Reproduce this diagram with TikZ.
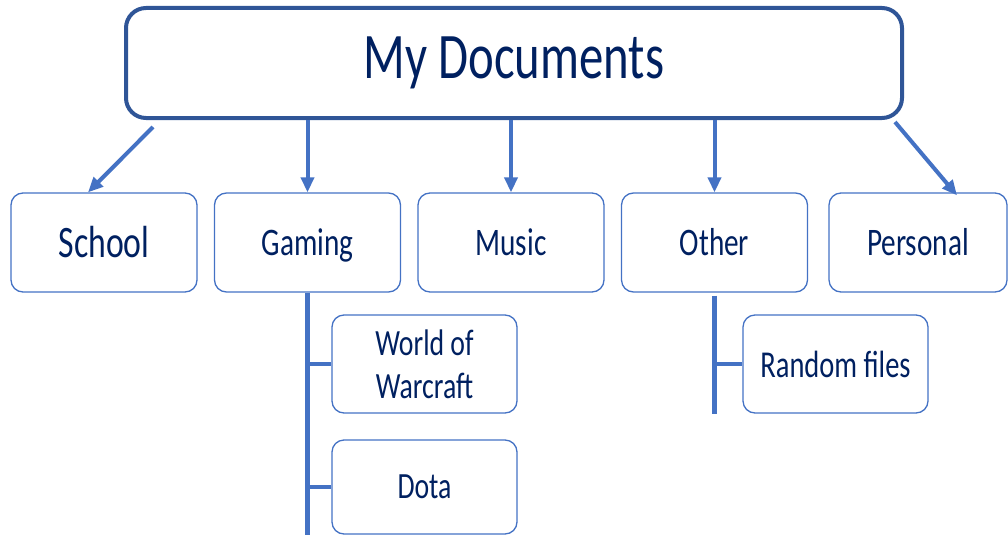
\documentclass[tikz,border=0pt]{standalone}
\usepackage{fontspec}
\setmainfont{Carlito}[FakeStretch=0.75]
\usepackage{tikz}
\usetikzlibrary{arrows.meta,positioning}
\definecolor{docnavy}{RGB}{0,32,96}
\definecolor{docborder}{RGB}{47,85,151}
\definecolor{folderblue}{RGB}{68,114,196}
\tikzstyle{docbox} = [rectangle, draw=docborder, line width=4pt, rounded corners=20pt,
    minimum width=776pt, minimum height=110pt, text=docnavy,
    font=\fontsize{65}{70}\selectfont]
\tikzstyle{folder} = [rectangle, draw=folderblue, line width=1.3pt, rounded corners=12pt,
    minimum width=186pt, minimum height=99pt, text=docnavy, align=center,
    text height=25pt, text depth=0pt,
    node distance=203.5pt, font=\fontsize{39}{43}\selectfont]
\tikzstyle{subfolder} = [folder, minimum width=185pt, minimum height=98pt,
    text height=, text depth=, font=\fontsize{37}{43}\selectfont]
\tikzstyle{link} = [-{Triangle[length=15pt,width=13pt]}, draw=folderblue, line width=4pt]
\tikzstyle{branch} = [draw=folderblue, line width=4.5pt]

\begin{document}
\begin{tikzpicture}[x=1pt,y=-1pt]
  \useasboundingbox (0,0) rectangle (1008,535);
  % Place nodes
  \node [docbox] (docs) at (514,63) {My Documents};
  \node [folder, text height=29pt, font=\fontsize{45}{50}\selectfont] (school) at (104,242.5) {School};
  \node [folder, right of=school] (gaming) {Gaming};
  \node [folder, right of=gaming] (music) {Music};
  \node [folder, right of=music] (other) {Other};
  \node [folder, right of=other, minimum width=178pt] (personal) {Personal};
  % Sub folders
  \node [subfolder, below of=gaming, xshift=117pt, node distance=121.5pt] (wow) {World of\\Warcraft};
  \node [subfolder, below of=wow, node distance=123pt, minimum height=94pt] (dota) {Dota};
  \node [subfolder, below of=other, xshift=121pt, node distance=121.5pt, font=\fontsize{38}{43}\selectfont] (random) {Random files};
  % Draw edges
  \draw [link] ([xshift=29pt,yshift=-7pt]docs.south west) -- ([xshift=-16pt]school.north);
  \draw [link] (docs.south -| gaming.north) -- (gaming.north);
  \draw [link] (docs.south -| music.north) -- (music.north);
  \draw [link] (docs.south -| other.north) -- (other.north);
  \draw [link] ([xshift=-9pt,yshift=-2pt]docs.south east) -- ([xshift=39pt,yshift=-3pt]personal.north);
  % Draw branches
  \draw [branch] (gaming.south) -- (gaming.south |- dota.south);
  \draw [branch] (gaming.south |- wow.west) -- (wow.west);
  \draw [branch] (gaming.south |- dota.west) -- (dota.west);
  \draw [branch] ([yshift=-3pt]other.south) -- (other.south |- random.south);
  \draw [branch] (other.south |- random.west) -- (random.west);
\end{tikzpicture}
\end{document}
